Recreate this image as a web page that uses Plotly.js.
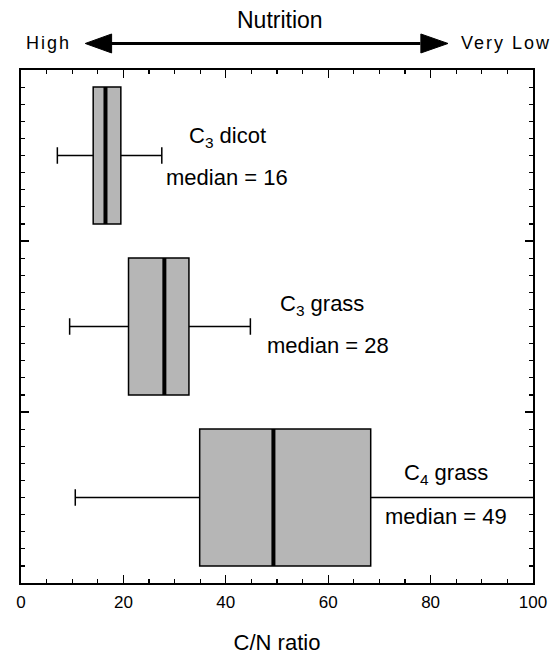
<!DOCTYPE html>
<html>
<head>
<meta charset="utf-8">
<script src="https://cdn.plot.ly/plotly-3.0.1.min.js"></script>
<style>
html,body{margin:0;padding:0;background:#fff;}
#chart{width:555px;height:655px;}
.infolayer g.annotation[data-index="1"] text,
.infolayer g.annotation[data-index="2"] text{letter-spacing:2px;}
</style>
</head>
<body>
<div id="chart"></div>
<script>
// ---- data ----
var groups      = ['C3 dicot', 'C3 grass', 'C4 grass'];
var groupLabels = ['C<sub>3</sub> dicot', 'C<sub>3</sub> grass', 'C<sub>4</sub> grass'];
var groupPos    = [2.5, 1.5, 0.5];
var q1          = [14.1, 21.0, 34.9];
var medians     = [16.5, 28.0, 49.3];
var q3          = [19.5, 32.8, 68.3];
var lowerFence  = [7.1, 9.5, 10.6];
var upperFence  = [27.5, 44.8, 115];
var medianText  = [16, 28, 49];
var xTicks      = [0, 20, 40, 60, 80, 100];

var FONT = 'Liberation Sans, Arial, Helvetica, sans-serif';
var BOXW = 0.8;

var traces = [{
  type: 'box',
  orientation: 'h',
  y: groupPos,
  q1: q1, median: medians, q3: q3,
  lowerfence: lowerFence, upperfence: upperFence,
  name: 'C/N',
  width: BOXW,
  whiskerwidth: 0.12,
  boxpoints: false,
  fillcolor: '#b6b6b6',
  line: {color: '#000', width: 1.5},
  hoverinfo: 'skip',
  showlegend: false
}];

var shapes = [];
// thick median lines
for (var i = 0; i < groups.length; i++) {
  shapes.push({type: 'line', xref: 'x', yref: 'y',
    x0: medians[i], x1: medians[i],
    y0: groupPos[i] - BOXW / 2, y1: groupPos[i] + BOXW / 2,
    line: {color: '#000', width: 4}});
}
// double arrow above the plot (paper coords)
var ay = 1.0517;
shapes.push({type: 'line', xref: 'paper', yref: 'paper',
  x0: 0.175, x1: 0.78, y0: ay, y1: ay, line: {color: '#000', width: 3}});
shapes.push({type: 'path', xref: 'paper', yref: 'paper',
  path: 'M 0.1255 ' + ay + ' L 0.177 ' + (ay + 0.0185) + ' L 0.177 ' + (ay - 0.0185) + ' Z',
  fillcolor: '#000', line: {color: '#000', width: 1}});
shapes.push({type: 'path', xref: 'paper', yref: 'paper',
  path: 'M 0.834 ' + ay + ' L 0.781 ' + (ay + 0.0185) + ' L 0.781 ' + (ay - 0.0185) + ' Z',
  fillcolor: '#000', line: {color: '#000', width: 1}});

var annotations = [
  {xref: 'paper', yref: 'paper', x: 0.506, y: 1.0965, text: 'Nutrition', showarrow: false,
   xanchor: 'center', yanchor: 'middle', font: {family: FONT, size: 23, color: '#000'}},
  {xref: 'paper', yref: 'paper', x: 0.014, y: ay, text: 'High', showarrow: false,
   xanchor: 'left', yanchor: 'middle', font: {family: FONT, size: 18, color: '#000'}},
  {xref: 'paper', yref: 'paper', x: 0.8705, y: ay, text: 'Very Low', showarrow: false,
   xanchor: 'left', yanchor: 'middle', font: {family: FONT, size: 18, color: '#000'}}
];
var labelXY = [[40.3, 2.61], [58.8, 1.626], [83.0, 0.637]];
var medXY   = [[40.2, 2.374], [60.0, 1.386], [83.1, 0.386]];
for (var j = 0; j < groups.length; j++) {
  annotations.push({xref: 'x', yref: 'y', x: labelXY[j][0], y: labelXY[j][1],
    text: groupLabels[j], showarrow: false, xanchor: 'center', yanchor: 'middle',
    font: {family: FONT, size: 22, color: '#000'}});
  annotations.push({xref: 'x', yref: 'y', x: medXY[j][0], y: medXY[j][1],
    text: 'median = ' + medianText[j], showarrow: false, xanchor: 'center', yanchor: 'middle',
    font: {family: FONT, size: 22, color: '#000'}});
}

var layout = {
  width: 555, height: 655,
  margin: {l: 21, r: 22, t: 70, b: 72},
  paper_bgcolor: '#fff', plot_bgcolor: '#fff',
  showlegend: false,
  font: {family: FONT, color: '#000'},
  xaxis: {
    range: [0, 100], tickvals: xTicks, ticktext: xTicks.map(String),
    ticks: 'inside', ticklen: 8, tickwidth: 1.3, tickcolor: '#000',
    minor: {dtick: 5, tick0: 0, ticks: 'inside', ticklen: 4, tickwidth: 1.2, tickcolor: '#000'},
    showline: true, linecolor: '#000', linewidth: 1.6, mirror: 'ticks',
    showgrid: false, zeroline: false,
    ticklabelstandoff: 3,
    tickfont: {family: FONT, size: 17, color: '#000'},
    title: {text: 'C/N ratio', font: {family: FONT, size: 22, color: '#000'}, standoff: 24},
    fixedrange: true
  },
  yaxis: {
    range: [0, 3], tick0: 0, dtick: 1,
    ticks: 'inside', ticklen: 8, tickwidth: 1.3, tickcolor: '#000',
    minor: {dtick: 0.1, tick0: 0, ticks: 'inside', ticklen: 4, tickwidth: 1.2, tickcolor: '#000'},
    showticklabels: false,
    showline: true, linecolor: '#000', linewidth: 1.6, mirror: 'ticks',
    showgrid: false, zeroline: false,
    fixedrange: true
  },
  shapes: shapes,
  annotations: annotations
};

Plotly.newPlot('chart', traces, layout, {displayModeBar: false, staticPlot: true});
</script>
</body>
</html>
